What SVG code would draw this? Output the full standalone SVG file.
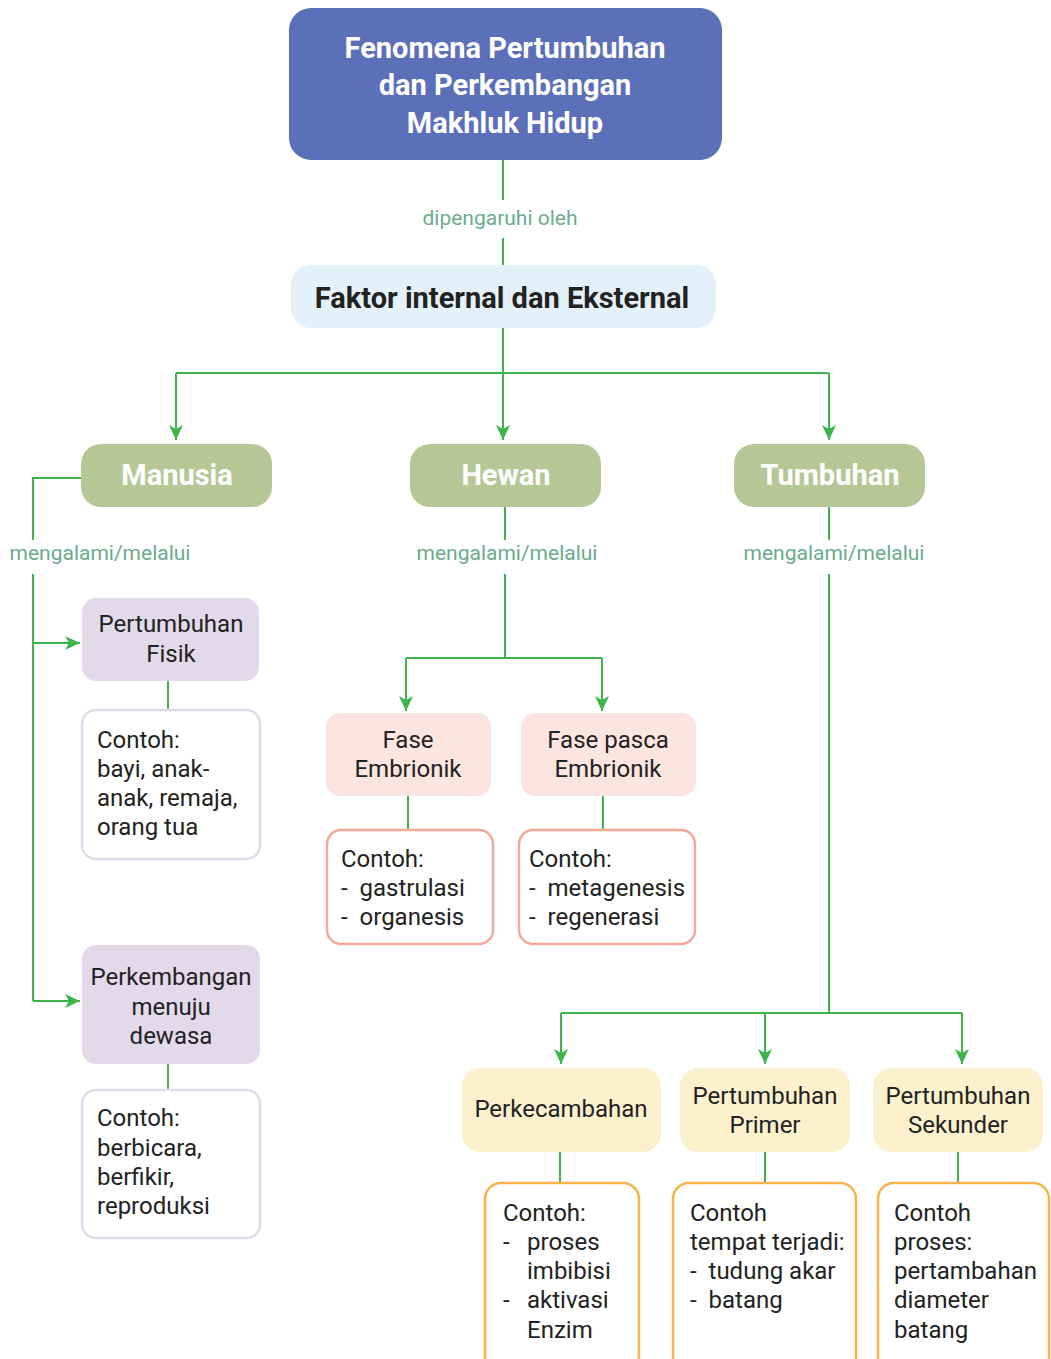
<svg xmlns="http://www.w3.org/2000/svg" width="1051" height="1359" viewBox="0 0 1051 1359">
<style>
text{font-family:Roboto,"Liberation Sans",sans-serif;}
.title{font-size:29px;font-weight:bold;fill:#ffffff;text-anchor:middle;}
.faktor{font-size:29px;font-weight:bold;fill:#222222;text-anchor:middle;}
.cat{font-size:29px;font-weight:bold;fill:#ffffff;text-anchor:middle;}
.lbl{font-size:21px;fill:#6aab8c;text-anchor:middle;}
.t{font-size:24px;fill:#222222;}
.tc{font-size:24px;fill:#222222;text-anchor:middle;}
.conn{stroke:#3db54a;stroke-width:2;fill:none;}
.purple{fill:#e2d9ea;}
.purpleb{fill:#ffffff;stroke:#e2d9ea;stroke-width:2.5;}
.pink{fill:#fce4df;}
.pinkb{fill:#ffffff;stroke:#f4a896;stroke-width:2.5;}
.yel{fill:#fdf0cc;}
.yelb{fill:#ffffff;stroke:#f9b24e;stroke-width:2.5;}
.green{fill:#b5c795;}
</style>
<defs>
<marker id="arr" markerUnits="userSpaceOnUse" markerWidth="16" markerHeight="14" refX="15" refY="7" orient="auto" viewBox="0 0 16 14">
<path d="M0,0 L15,7 L0,14 L4,7 Z" fill="#3db54a"/>
</marker>
</defs>
<rect width="1051" height="1359" fill="#ffffff"/>

<g id="connectors">
<line class="conn" x1="503" y1="160" x2="503" y2="200"/>
<line class="conn" x1="503" y1="238" x2="503" y2="265"/>
<path class="conn" d="M503,328 V373"/>
<path class="conn" d="M176,373 H829"/>
<path class="conn" d="M176,373 V440" marker-end="url(#arr)"/>
<path class="conn" d="M503,373 V440" marker-end="url(#arr)"/>
<path class="conn" d="M829,373 V440" marker-end="url(#arr)"/>
<path class="conn" d="M81,478 H33 V540"/>
<path class="conn" d="M33,574 V1001"/>
<path class="conn" d="M33,643 H80" marker-end="url(#arr)"/>
<path class="conn" d="M33,1001 H80" marker-end="url(#arr)"/>
<path class="conn" d="M168,681 V710"/>
<path class="conn" d="M168,1064 V1090"/>
<path class="conn" d="M505,507 V540"/>
<path class="conn" d="M505,574 V658"/>
<path class="conn" d="M406,658 H602"/>
<path class="conn" d="M406,658 V711" marker-end="url(#arr)"/>
<path class="conn" d="M602,658 V711" marker-end="url(#arr)"/>
<path class="conn" d="M408,796 V830"/>
<path class="conn" d="M603,796 V830"/>
<path class="conn" d="M829,507 V540"/>
<path class="conn" d="M829,574 V1013"/>
<path class="conn" d="M561,1013 H962"/>
<path class="conn" d="M561,1013 V1064" marker-end="url(#arr)"/>
<path class="conn" d="M765,1013 V1064" marker-end="url(#arr)"/>
<path class="conn" d="M962,1013 V1064" marker-end="url(#arr)"/>
<path class="conn" d="M560,1152 V1183"/>
<path class="conn" d="M765,1152 V1183"/>
<path class="conn" d="M958,1152 V1183"/>
<text class="lbl" x="500" y="225">dipengaruhi oleh</text>
<text class="lbl" x="100" y="560">mengalami/melalui</text>
<text class="lbl" x="507" y="560">mengalami/melalui</text>
<text class="lbl" x="834" y="560">mengalami/melalui</text>
</g>

<g id="node-fenomena">
<rect x="289" y="8" width="433" height="152" rx="22" fill="#5b70b8"/>
<text class="title" x="505" y="58">Fenomena Pertumbuhan</text>
<text class="title" x="505" y="95">dan Perkembangan</text>
<text class="title" x="505" y="133">Makhluk Hidup</text>
</g>

<g id="node-faktor">
<rect x="291" y="265" width="425" height="63" rx="20" fill="#e3f2fa"/>
<text class="faktor" x="502" y="308">Faktor internal dan Eksternal</text>
</g>

<g id="node-manusia">
<rect class="green" x="81" y="444" width="191" height="63" rx="20"/>
<text class="cat" x="177" y="485">Manusia</text>
</g>
<g id="node-hewan">
<rect class="green" x="410" y="444" width="191" height="63" rx="20"/>
<text class="cat" x="506" y="485">Hewan</text>
</g>
<g id="node-tumbuhan">
<rect class="green" x="734" y="444" width="191" height="63" rx="20"/>
<text class="cat" x="830" y="485">Tumbuhan</text>
</g>

<g id="node-pertumbuhan-fisik">
<rect class="purple" x="82" y="598" width="177" height="83" rx="14"/>
<text class="tc" x="171" y="632">Pertumbuhan</text>
<text class="tc" x="171" y="662">Fisik</text>
</g>
<g id="node-contoh-fisik">
<rect class="purpleb" x="82" y="710" width="178" height="149" rx="14"/>
<text class="t" x="97" y="748">Contoh:</text>
<text class="t" x="97" y="777">bayi, anak-</text>
<text class="t" x="97" y="806">anak, remaja,</text>
<text class="t" x="97" y="835">orang tua</text>
</g>
<g id="node-perkembangan">
<rect class="purple" x="82" y="945" width="178" height="119" rx="14"/>
<text class="tc" x="171" y="985">Perkembangan</text>
<text class="tc" x="171" y="1015">menuju</text>
<text class="tc" x="171" y="1044">dewasa</text>
</g>
<g id="node-contoh-perkembangan">
<rect class="purpleb" x="82" y="1090" width="178" height="148" rx="14"/>
<text class="t" x="97" y="1126">Contoh:</text>
<text class="t" x="97" y="1156">berbicara,</text>
<text class="t" x="97" y="1185">berfikir,</text>
<text class="t" x="97" y="1214">reproduksi</text>
</g>

<g id="node-fase-embrionik">
<rect class="pink" x="326" y="713" width="165" height="83" rx="14"/>
<text class="tc" x="408" y="748">Fase</text>
<text class="tc" x="408" y="777">Embrionik</text>
</g>
<g id="node-contoh-embrionik">
<rect class="pinkb" x="327" y="830" width="166" height="114" rx="14"/>
<text class="t" x="341" y="867">Contoh:</text>
<text class="t" x="341" y="896" xml:space="preserve">-  gastrulasi</text>
<text class="t" x="341" y="925" xml:space="preserve">-  organesis</text>
</g>
<g id="node-fase-pasca">
<rect class="pink" x="521" y="713" width="175" height="83" rx="14"/>
<text class="tc" x="608" y="748">Fase pasca</text>
<text class="tc" x="608" y="777">Embrionik</text>
</g>
<g id="node-contoh-pasca">
<rect class="pinkb" x="519" y="830" width="176" height="114" rx="14"/>
<text class="t" x="529" y="867">Contoh:</text>
<text class="t" x="529" y="896" xml:space="preserve">-  metagenesis</text>
<text class="t" x="529" y="925" xml:space="preserve">-  regenerasi</text>
</g>

<g id="node-perkecambahan">
<rect class="yel" x="462" y="1068" width="199" height="84" rx="18"/>
<text class="tc" x="561" y="1117">Perkecambahan</text>
</g>
<g id="node-contoh-perkecambahan">
<rect class="yelb" x="485" y="1183" width="154" height="190" rx="16"/>
<text class="t" x="503" y="1221">Contoh:</text>
<text class="t" x="503" y="1250">-</text>
<text class="t" x="527" y="1250">proses</text>
<text class="t" x="527" y="1279">imbibisi</text>
<text class="t" x="503" y="1308">-</text>
<text class="t" x="527" y="1308">aktivasi</text>
<text class="t" x="527" y="1338">Enzim</text>
</g>
<g id="node-pertumbuhan-primer">
<rect class="yel" x="680" y="1068" width="170" height="84" rx="18"/>
<text class="tc" x="765" y="1104">Pertumbuhan</text>
<text class="tc" x="765" y="1133">Primer</text>
</g>
<g id="node-contoh-primer">
<rect class="yelb" x="673" y="1183" width="183" height="190" rx="16"/>
<text class="t" x="690" y="1221">Contoh</text>
<text class="t" x="690" y="1250">tempat terjadi:</text>
<text class="t" x="690" y="1279" xml:space="preserve">-  tudung akar</text>
<text class="t" x="690" y="1308" xml:space="preserve">-  batang</text>
</g>
<g id="node-pertumbuhan-sekunder">
<rect class="yel" x="873" y="1068" width="170" height="84" rx="18"/>
<text class="tc" x="958" y="1104">Pertumbuhan</text>
<text class="tc" x="958" y="1133">Sekunder</text>
</g>
<g id="node-contoh-sekunder">
<rect class="yelb" x="878" y="1183" width="171" height="190" rx="16"/>
<text class="t" x="894" y="1221">Contoh</text>
<text class="t" x="894" y="1250">proses:</text>
<text class="t" x="894" y="1279">pertambahan</text>
<text class="t" x="894" y="1308">diameter</text>
<text class="t" x="894" y="1338">batang</text>
</g>
</svg>
